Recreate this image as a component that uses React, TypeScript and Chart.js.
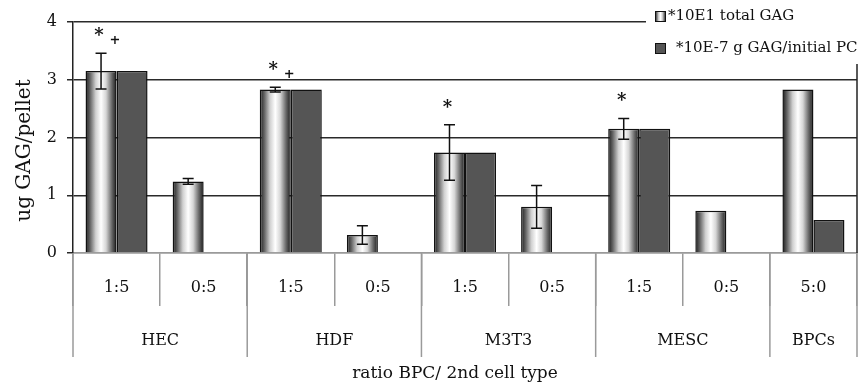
import React, { useEffect, useRef } from 'react';
import { Chart, registerables } from 'chart.js';

Chart.register(...registerables);

// ---- data ----
const subLabels = ['1:5', '0:5', '1:5', '0:5', '1:5', '0:5', '1:5', '0:5', '5:0'];
const groupNames = ['HEC', 'HDF', 'M3T3', 'MESC', 'BPCs'];
const groupSizes = [2, 2, 2, 2, 1];
const totalGag = [3.15, 1.24, 2.83, 0.31, 1.74, 0.8, 2.15, 0.73, 2.83];
const totalGagErr = [0.31, 0.05, 0.04, 0.16, 0.48, 0.37, 0.18, 0, 0];
const gagPerPC = [3.15, null, 2.83, null, 1.74, null, 2.15, null, 0.57];
const marks = ['*+', '', '*+', '', '*', '', '*', '', ''];
const seriesNames = ['*10E1 total GAG', '*10E-7 g GAG/initial PC'];
const yMin = 0;
const yMax = 4;
const yStep = 1;
const yTitle = 'ug GAG/pellet';
const xTitle = 'ratio BPC/ 2nd cell type';

const FONT = '"DejaVu Serif", serif';
const CAT_PCT = 0.712;

function makeGrad(ctx: CanvasRenderingContext2D, left: number, right: number) {
  const g = ctx.createLinearGradient(left, 0, right, 0);
  g.addColorStop(0, '#1a1a1a');
  g.addColorStop(0.15, '#666666');
  g.addColorStop(0.33, '#d0d0d0');
  g.addColorStop(0.5, '#ffffff');
  g.addColorStop(0.66, '#d6d6d6');
  g.addColorStop(0.85, '#666666');
  g.addColorStop(1, '#1a1a1a');
  return g;
}

// gives each bar of the first series its own cylinder-like gradient, using the bar's real geometry
const gradBars = {
  id: 'gradBars',
  beforeDatasetsDraw(chart: any) {
    const meta = chart.getDatasetMeta(0);
    meta.data.forEach((el: any) => {
      const w = el.width;
      if (!isFinite(el.x) || !isFinite(w)) return;
      const opts = Object.assign({}, el.options);
      opts.backgroundColor = makeGrad(chart.ctx, el.x - w / 2, el.x + w / 2);
      el.options = opts;
    });
  },
};

const decor = {
  id: 'decor',
  afterDatasetsDraw(chart: any) {
    const { ctx, scales } = chart;
    const y = scales.y;
    const meta0 = chart.getDatasetMeta(0);
    ctx.save();
    ctx.strokeStyle = '#111';
    ctx.lineWidth = 1.5;
    totalGag.forEach((v, i) => {
      const e = totalGagErr[i];
      if (!e) return;
      const bx = meta0.data[i].x;
      const t = y.getPixelForValue(v + e);
      const b = y.getPixelForValue(v - e);
      ctx.beginPath();
      ctx.moveTo(bx, t); ctx.lineTo(bx, b);
      ctx.moveTo(bx - 5.5, t); ctx.lineTo(bx + 5.5, t);
      ctx.moveTo(bx - 5.5, b); ctx.lineTo(bx + 5.5, b);
      ctx.stroke();
    });
    ctx.fillStyle = '#111';
    marks.forEach((m, i) => {
      if (!m) return;
      const bx = meta0.data[i].x;
      const top = y.getPixelForValue(totalGag[i] + totalGagErr[i]);
      const sy = top - 20;
      if (m.includes('*')) {
        ctx.font = 'bold 18px ' + FONT;
        ctx.textAlign = 'center';
        ctx.textBaseline = 'alphabetic';
        ctx.fillText('*', bx - 2, sy + 8);
      }
      if (m.includes('+')) {
        ctx.font = 'bold 13px ' + FONT;
        ctx.textAlign = 'center';
        ctx.textBaseline = 'alphabetic';
        ctx.fillText('+', bx + 14, sy + 11);
      }
    });
    ctx.restore();
  },
  afterDraw(chart: any) {
    const { ctx, chartArea: a, scales } = chart;
    const x = scales.x;
    const catW = x.width / subLabels.length;
    ctx.save();
    // right border of plot
    ctx.strokeStyle = '#222';
    ctx.lineWidth = 1.5;
    ctx.beginPath();
    ctx.moveTo(a.right, a.top);
    ctx.lineTo(a.right, a.bottom);
    ctx.stroke();
    // group separators and labels
    ctx.strokeStyle = '#9a9a9a';
    ctx.lineWidth = 1.5;
    let idx = 0;
    const bounds: number[] = [x.getPixelForValue(0) - catW / 2];
    groupSizes.forEach((s) => {
      idx += s;
      bounds.push(x.getPixelForValue(idx - 1) + catW / 2);
    });
    bounds.forEach((bx) => {
      ctx.beginPath();
      ctx.moveTo(bx, a.bottom);
      ctx.lineTo(bx, a.bottom + 104);
      ctx.stroke();
    });
    ctx.fillStyle = '#111';
    ctx.font = '16px ' + FONT;
    ctx.textAlign = 'center';
    ctx.textBaseline = 'middle';
    groupNames.forEach((g, i) => {
      ctx.fillText(g, (bounds[i] + bounds[i + 1]) / 2, a.bottom + 88);
    });
    // x title
    ctx.font = '17px ' + FONT;
    ctx.fillText(xTitle, (a.left + a.right) / 2 - 10, a.bottom + 121);
    // y title
    ctx.save();
    ctx.translate(25, (a.top + a.bottom) / 2 + 13);
    ctx.rotate(-Math.PI / 2);
    ctx.font = '20px ' + FONT;
    ctx.fillText(yTitle, 0, 0);
    ctx.restore();
    // legend
    ctx.fillStyle = '#ffffff';
    ctx.fillRect(646, 0, 861 - 646, 64);
    const items = [
      { y: 16, tx: 668 },
      { y: 48, tx: 676 },
    ];
    items.forEach((it, i) => {
      const bx = 655, by = it.y - 5, s = 11;
      ctx.fillStyle = i === 0 ? makeGrad(ctx, bx, bx + s) : '#555555';
      ctx.fillRect(bx, by, s, s);
      ctx.strokeStyle = '#111';
      ctx.lineWidth = 1;
      ctx.strokeRect(bx + 0.5, by + 0.5, s - 1, s - 1);
      ctx.fillStyle = '#111';
      ctx.font = '15px ' + FONT;
      ctx.textAlign = 'left';
      ctx.textBaseline = 'middle';
      ctx.fillText(seriesNames[i], it.tx, it.y);
    });
    ctx.restore();
  },
};

export default function App() {
  const ref = useRef<HTMLCanvasElement>(null);
  useEffect(() => {
    if (!ref.current) return;
    const chart = new Chart(ref.current, {
      type: 'bar',
      data: {
        labels: subLabels,
        datasets: [
          {
            label: seriesNames[0],
            data: totalGag,
            backgroundColor: '#d0d0d0',
            borderColor: '#111',
            borderWidth: 1.5,
          },
          {
            label: seriesNames[1],
            data: gagPerPC as any,
            backgroundColor: '#555555',
            borderColor: '#111',
            borderWidth: 1.5,
          },
        ],
      },
      options: {
        responsive: false,
        animation: false,
        datasets: { bar: { categoryPercentage: CAT_PCT, barPercentage: 1 } },
        layout: { padding: { top: 22, right: 4, left: 0, bottom: 0 } },
        plugins: { legend: { display: false }, tooltip: { enabled: false } },
        scales: {
          x: {
            offset: true,
            grid: {
              offset: true,
              drawOnChartArea: false,
              drawTicks: true,
              tickLength: 53,
              color: '#9a9a9a',
              lineWidth: 1.5,
            },
            border: { display: true, color: '#9a9a9a', width: 1.5 },
            ticks: {
              font: { family: FONT, size: 16 },
              color: '#111',
              padding: -28,
              maxRotation: 0,
              autoSkip: false,
            },
            afterFit: (s: any) => { s.height = 137; },
          },
          y: {
            min: yMin,
            max: yMax,
            ticks: {
              stepSize: yStep,
              font: { family: FONT, size: 16 },
              color: '#111',
              padding: 10,
            },
            grid: {
              color: (c: any) => (c.tick && c.tick.value === 0 ? '#9a9a9a' : '#2a2a2a'),
              tickColor: '#2a2a2a',
              lineWidth: 1.5,
              tickLength: 6,
            },
            border: { display: true, color: '#222', width: 1.5 },
            afterFit: (s: any) => { s.width = 73; },
          },
        },
      },
      plugins: [gradBars, decor],
    });
    return () => chart.destroy();
  }, []);
  return (
    <div style={{ position: 'absolute', left: 0, top: 0, width: 861, height: 390, background: '#fff' }}>
      <canvas ref={ref} width={861} height={390} style={{ width: 861, height: 390 }} />
    </div>
  );
}
